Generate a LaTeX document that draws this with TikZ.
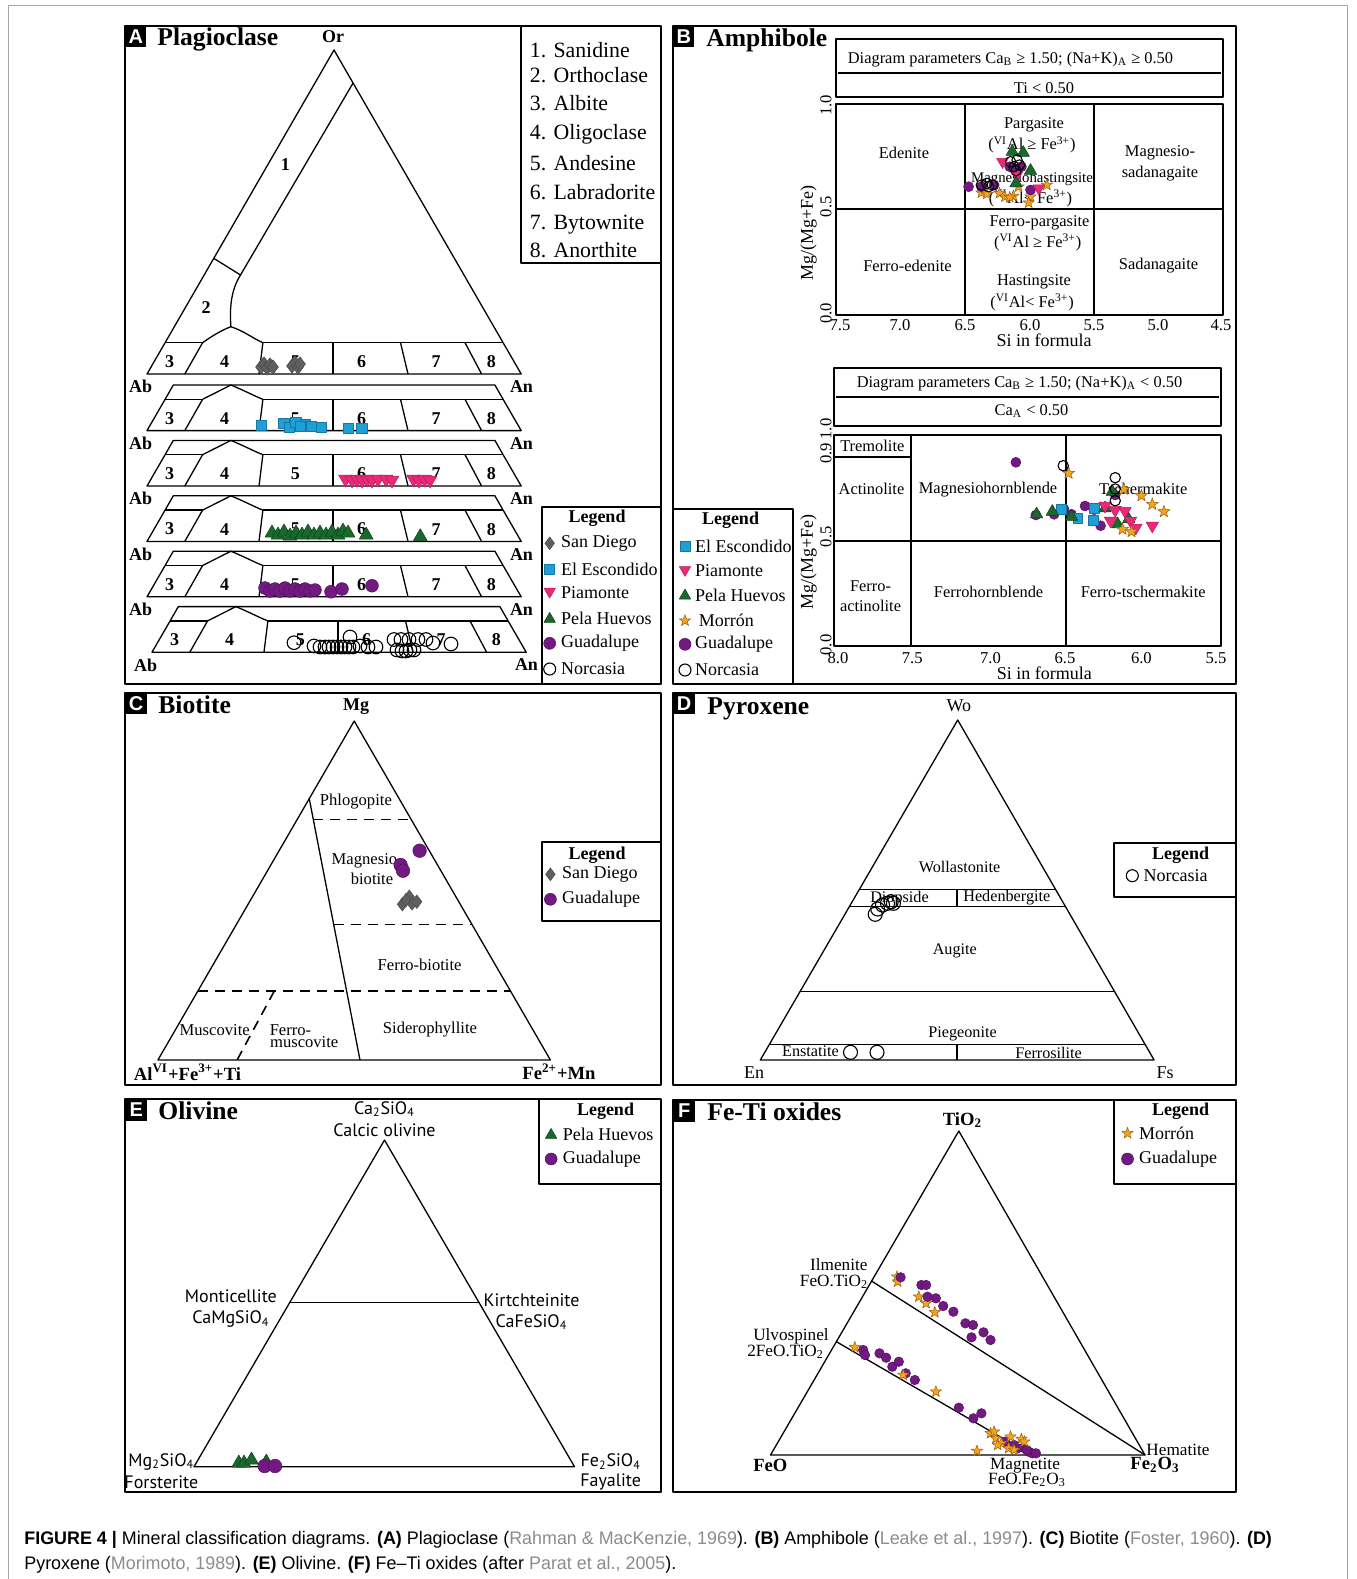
\documentclass[tikz,border=0pt]{standalone}
\usepackage{fontspec}
\usepackage{graphicx}
\setmainfont{Liberation Serif}
\newfontfamily\sansf{Liberation Sans}
\newfontfamily\olf{PT Sans}
\usetikzlibrary{plotmarks}
\pgfdeclareplotmark{fstar}{%
 \pgfpathmoveto{\pgfqpoint{0pt}{\pgfplotmarksize}}%
 \pgfpathlineto{\pgfqpoint{-0.235\pgfplotmarksize}{0.324\pgfplotmarksize}}%
 \pgfpathlineto{\pgfqpoint{-0.951\pgfplotmarksize}{0.309\pgfplotmarksize}}%
 \pgfpathlineto{\pgfqpoint{-0.380\pgfplotmarksize}{-0.124\pgfplotmarksize}}%
 \pgfpathlineto{\pgfqpoint{-0.588\pgfplotmarksize}{-0.809\pgfplotmarksize}}%
 \pgfpathlineto{\pgfqpoint{0pt}{-0.4\pgfplotmarksize}}%
 \pgfpathlineto{\pgfqpoint{0.588\pgfplotmarksize}{-0.809\pgfplotmarksize}}%
 \pgfpathlineto{\pgfqpoint{0.380\pgfplotmarksize}{-0.124\pgfplotmarksize}}%
 \pgfpathlineto{\pgfqpoint{0.951\pgfplotmarksize}{0.309\pgfplotmarksize}}%
 \pgfpathlineto{\pgfqpoint{0.235\pgfplotmarksize}{0.324\pgfplotmarksize}}%
 \pgfpathclose\pgfusepathqfillstroke}
\definecolor{sdgray}{RGB}{95,95,95}
\definecolor{esblue}{RGB}{30,160,215}
\definecolor{pmpink}{RGB}{238,40,120}
\definecolor{phgreen}{RGB}{25,105,45}
\definecolor{gdpurple}{RGB}{115,25,130}
\definecolor{mrorange}{RGB}{247,162,30}
\definecolor{refgray}{RGB}{140,140,140}
\tikzset{
 frame/.style={line width=1.1pt},
 tri/.style={line width=0.65pt},
 bx/.style={line width=1pt},
 lett/.style={font=\sansf\bfseries\fontsize{10}{10}\selectfont, text=white, inner sep=0},
 ttl/.style={font=\bfseries\fontsize{12.8}{14}\selectfont, inner sep=0, anchor=base west},
 lst/.style={font=\fontsize{10.9}{12}\selectfont, inner sep=0, anchor=base west},
 pnum/.style={font=\bfseries\fontsize{9}{10}\selectfont, inner sep=0},
 leg/.style={font=\bfseries\fontsize{9}{10}\selectfont, inner sep=0},
 legi/.style={font=\fontsize{9}{10}\selectfont, inner sep=0, anchor=west},
 bl/.style={font=\fontsize{8.2}{9}\selectfont, inner sep=0},
 tk/.style={font=\fontsize{8.3}{9}\selectfont, inner sep=0},
 axt/.style={font=\fontsize{9}{10}\selectfont, inner sep=0},
 cl/.style={font=\fontsize{8.3}{9}\selectfont, inner sep=0},
 dl/.style={font=\fontsize{8.1}{9}\selectfont, inner sep=0},
 el/.style={font=\olf\fontsize{9}{10}\selectfont, inner sep=0},
 fl/.style={font=\fontsize{8.6}{9}\selectfont, inner sep=0},
 bax/.style={font=\bfseries\fontsize{9.3}{10}\selectfont, inner sep=0},
 dsh/.style={line width=0.8pt, dash pattern=on 5pt off 3.5pt},
 capf/.style={font=\sansf\fontsize{9.1}{11}\selectfont, inner sep=0, anchor=base west},
 mSD/.style={mark=diamond*, mark size=#1, mark options={draw=black!70, fill=sdgray, line width=0.25pt}},
 mES/.style={mark=square*, mark size=#1, mark options={draw=esblue!75!black, fill=esblue, line width=0.25pt}},
 mPM/.style={mark=triangle*, mark size=#1, mark options={rotate=180, draw=pmpink!75!black, fill=pmpink, line width=0.25pt}},
 mPH/.style={mark=triangle*, mark size=#1, mark options={draw=phgreen!60!black, fill=phgreen, line width=0.25pt}},
 mGD/.style={mark=*, mark size=#1, mark options={draw=gdpurple!70!black, fill=gdpurple, line width=0.25pt}},
 mMR/.style={mark=fstar, mark size=#1, mark options={draw=mrorange!60!black, fill=mrorange, line width=0.25pt}},
 mNC/.style={mark=o, mark size=#1, mark options={draw=black, line width=0.55pt}},
}
\newcommand\plagbase[1]{%
  \draw[tri] (165.1,0) -- (147,31.3) -- (521.2,31.3) -- (503.1,0);
  \draw[tri] (165.1,0) -- (202.6,0);
  \draw[tri] (262.9,0) -- (503.1,0);
  \draw[tri] (202.6,0) -- (184.8,31.3);
  \draw[tri] (262.9,0) -- (259,31.3);
  \draw[tri] (333,0) -- (333,31.3);
  \draw[tri] (400.5,0) -- (408,31.3);
  \draw[tri] (465,0) -- (481.6,31.3);
  \node[pnum] (#1a) at (169.5,19) {3};
  \node[pnum] (#1b) at (224.7,19) {4};
  \node[pnum] (#1c) at (295.3,19) {5};
  \node[pnum] (#1d) at (361.5,19) {6};
  \node[pnum] (#1e) at (436,19) {7};
  \node[pnum] (#1f) at (491.4,19) {8};
  \node[pnum] (#1g) at (140.7,44) {Ab};
  \node[pnum] (#1h) at (521.5,44) {An};
}
\newcommand\plagtop{%
  \draw[tri] (165.1,0) -- (173.3,-14.3) -- (494.9,-14.3) -- (503.1,0);
  \draw[tri] (202.6,0) -- (230.9,-14.3) .. controls (246,-8) and (255,-3) .. (262.9,0);
}
\begin{document}
\begin{tikzpicture}[x=0.5pt,y=-0.5pt,line join=round]
\useasboundingbox (0,0) rectangle (1356,1579);
\fill[white] (0,0) rectangle (1356,1579);
\draw[black!35, line width=0.5pt] (8,1579) -- (8,5) -- (1347,5) -- (1347,1579);

% ================= PANEL A =================
\draw[frame] (125,26) rectangle (661,684);
\fill (125.5,26.5) rectangle (146,47);
\node[lett] (la) at (135.8,36.8) {A};
\node[ttl] (ta) at (157,46) {Plagioclase};
\node[pnum] (aor) at (333,37) {Or};
\draw[bx] (521,26) -- (521,263.3) -- (661,263.3);
\node[lst] (al1) at (529.5,57.3) {1. Sanidine};
\node[lst] (al2) at (529.5,82.7) {2. Orthoclase};
\node[lst] (al3) at (529.5,110.7) {3. Albite};
\node[lst] (al4) at (529.5,139.3) {4. Oligoclase};
\node[lst] (al5) at (529.5,170.7) {5. Andesine};
\node[lst] (al6) at (529.5,199) {6. Labradorite};
\node[lst] (al7) at (529.5,229) {7. Bytownite};
\node[lst] (al8) at (529.5,257.3) {8. Anorthite};
% main triangle
\draw[tri] (165.1,342.7) -- (334,50) -- (503.1,342.7);
\draw[tri] (352.9,83.3) -- (240.5,275);
\draw[tri] (213.7,258.3) -- (240.5,275);
\draw[tri] (240.5,275) .. controls (231,290) and (229.5,308) .. (230.9,326.7);
\draw[tri] (202.6,342.7) .. controls (212,336) and (222,330) .. (230.9,326.7) .. controls (244,331) and (254,339) .. (262.9,342.7);
\node[pnum] (ar1) at (285.3,165) {1};
\node[pnum] (ar2) at (206.1,307.3) {2};
\begin{scope}[shift={(0,342.7)}] \plagbase{pa} \end{scope}
\begin{scope}[shift={(0,399.3)}] \plagtop \plagbase{pb} \end{scope}
\begin{scope}[shift={(0,454.7)}] \plagtop \plagbase{pc} \end{scope}
\begin{scope}[shift={(0,510.1)}] \plagtop \plagbase{pd} \end{scope}
\begin{scope}[shift={(0,565.5)}] \plagtop \plagbase{pe} \end{scope}
\begin{scope}[shift={(5,620.9)}] \plagtop \plagbase{pf} \end{scope}
% data A
\draw plot[only marks, mSD=3.6pt] coordinates {(261,367) (264,364) (267,368) (270,365) (273,367) (292,366) (295,363) (298,367) (300,364)};
\draw plot[only marks, mES=2.6pt] coordinates {(261.2,425) (283.6,423) (289.4,427) (295.6,422) (305.3,424) (311.1,426) (300,426) (321.4,427) (348,428) (361.7,428)};
\draw plot[only marks, mPM=4pt] coordinates {(345.5,479) (352,480) (357,479) (362,480) (367,479) (372,480) (378,479) (386,479) (392,480) (413.5,479) (419,480) (424.5,479) (430,480)};
\draw plot[only marks, mPH=4pt] coordinates {(272,533) (278,535) (284,532) (290,536) (296,533) (302,535) (308,532) (314,535) (320,533) (326,535) (332,532) (338,535) (343,531) (348,533) (366.2,535) (420.3,536.7)};
\draw plot[only marks, mGD=3.2pt] coordinates {(265,588) (270,591) (275,589) (280,591) (285,588) (290,591) (295,589) (300,591) (305,589) (310,591) (315,590) (331,591.7) (342,589) (372,585.7)};
\draw plot[only marks, mNC=3.4pt] coordinates {(294,642.7) (314,646) (320,647) (325,647) (329,647) (333,647) (337,647) (341,647) (345,647) (349,647) (353,647) (350,637) (360,646) (368,647) (376,647) (394,639.5) (401,639.5) (409,639.5) (418,639.5) (426,639.5) (433,643) (451,644) (397,650) (402,651) (406,651) (410,650) (414,650)};
% legend A
\draw[bx] (541.8,684) -- (541.8,506.7) -- (661,506.7);
\node[leg] (alg) at (597,518.3) {Legend};
\draw plot[only marks, mSD=3.2pt] coordinates {(549.7,543.3)};
\draw plot[only marks, mES=2.5pt] coordinates {(549.7,569)};
\draw plot[only marks, mPM=3.3pt] coordinates {(549.7,591.5)};
\draw plot[only marks, mPH=3.3pt] coordinates {(549.7,619)};
\draw plot[only marks, mGD=3pt] coordinates {(549.7,643.3)};
\draw plot[only marks, mNC=3pt] coordinates {(549.7,669)};
\node[legi] (alg1) at (560.8,543.3) {San Diego};
\node[legi] (alg2) at (560.8,569) {El Escondido};
\node[legi] (alg3) at (560.8,592.7) {Piamonte};
\node[legi] (alg4) at (560.8,618.3) {Pela Huevos};
\node[legi] (alg5) at (560.8,643.3) {Guadalupe};
\node[legi] (alg6) at (560.8,669) {Norcasia};

% ================= PANEL B =================
\draw[frame] (673,26) rectangle (1236,684);
\fill (673.5,26.5) rectangle (694,47);
\node[lett] (lb) at (683.8,36.8) {B};
\node[ttl] (tb) at (706,46.7) {Amphibole};
\draw[bx] (836,39.3) rectangle (1223,97.3);
\draw[bx] (838,73.3) -- (1221,73.3);
\node[bl] (bp1) at (1010.5,59.3) {Diagram parameters Ca\textsubscript{B} ≥ 1.50; (Na+K)\textsubscript{A} ≥ 0.50};
\node[bl] (bp2) at (1044,88.3) {Ti < 0.50};
\draw[bx] (836,104) rectangle (1223,315);
\draw[bx] (965.4,104) -- (965.4,315);
\draw[bx] (1094,104) -- (1094,315);
\draw[bx] (836,209.3) -- (1223,209.3);
\node[tk] (bx1) at (840,325) {7.5};
\node[tk] (bx2) at (900,325) {7.0};
\node[tk] (bx3) at (965,325) {6.5};
\node[tk] (bx4) at (1030,325) {6.0};
\node[tk] (bx5) at (1094,325) {5.5};
\node[tk] (bx6) at (1158,325) {5.0};
\node[tk] (bx7) at (1221,325) {4.5};
\node[axt] (bxt) at (1044,340.7) {Si in formula};
\node[tk,rotate=90] (by1) at (826,105.5) {1.0};
\node[tk,rotate=90] (by2) at (826,206.7) {0.5};
\node[tk,rotate=90] (by3) at (826,313.3) {0.0};
\node[axt,rotate=90] (byt) at (808.6,233.3) {Mg/(Mg+Fe)};
\node[bl] (br1) at (904,153.3) {Edenite};
\node[bl] (br2) at (1034,125) {Pargasite};
\node[bl] (br3) at (1032,145) {(\textsuperscript{VI}Al ≥ Fe\textsuperscript{3+})};
\node[bl] (br4) at (1160,153.3) {Magnesio-};
\node[bl] (br5) at (1160,173.3) {sadanagaite};
\node[bl,font=\fontsize{7.4}{8}\selectfont] (br6) at (1032,179.3) {Magnesiohastingsite};
\node[bl] (br7) at (1030.5,198.3) {(\textsuperscript{VI}Al< Fe\textsuperscript{3+})};
\node[bl] (br8) at (1039.5,223.3) {Ferro-pargasite};
\node[bl] (br9) at (1037.7,242.7) {(\textsuperscript{VI}Al ≥ Fe\textsuperscript{3+})};
\node[bl] (br10) at (907.5,265.7) {Ferro-edenite};
\node[bl] (br11) at (1034,282.3) {Hastingsite};
\node[bl] (br12) at (1032,302.3) {(\textsuperscript{VI}Al< Fe\textsuperscript{3+})};
\node[bl] (br13) at (1158.5,265.7) {Sadanagaite};
% data chart 1
\draw plot[only marks, mMR=3pt] coordinates {(981.4,192.7) (986.8,194) (999.5,193.3) (1005,196.7) (1013.4,196) (1018.5,186.7) (1030.5,196.7) (1028.6,202.7) (1046.8,185) (1009.7,197.3)};
\draw plot[only marks, mGD=2.5pt] coordinates {(968.6,186.7) (1009.7,166.7) (1021.4,166.7) (981.4,186.7) (994.1,185) (1030.5,190) (1013,168)};
\draw plot[only marks, mPM=3.4pt] coordinates {(1002.5,161.7) (1017,175) (1038.8,188.3)};
\draw plot[only marks, mPH=3.6pt] coordinates {(1012.3,151.7) (1023.2,152.7) (1030.5,170.7) (1016,183.3)};
\draw plot[only marks, mNC=2.6pt] coordinates {(1010.5,161.7) (1017,160) (1014,166.7) (1019.5,165) (1016,170.7) (981.4,185) (986.8,183.3) (992.3,185) (988.6,186.7)};
% chart 2
\draw[bx] (834,367.7) rectangle (1220.6,426);
\draw[bx] (836,397.3) -- (1218.6,397.3);
\node[bl] (bq1) at (1019.5,383.3) {Diagram parameters Ca\textsubscript{B} ≥ 1.50; (Na+K)\textsubscript{A} < 0.50};
\node[bl] (bq2) at (1031.5,411) {Ca\textsubscript{A} < 0.50};
\draw[bx] (834,435) rectangle (1220.6,646);
\draw[bx] (911.2,435) -- (911.2,646);
\draw[bx] (1065.7,435) -- (1065.7,646);
\draw[bx] (834,540.7) -- (1220.6,540.7);
\draw[bx] (834,456.7) -- (911.2,456.7);
\node[tk] (bz1) at (838,658.3) {8.0};
\node[tk] (bz2) at (912.3,658.3) {7.5};
\node[tk] (bz3) at (990.5,658.3) {7.0};
\node[tk] (bz4) at (1065,658.3) {6.5};
\node[tk] (bz5) at (1141.4,658.3) {6.0};
\node[tk] (bz6) at (1216,658.3) {5.5};
\node[axt] (bzt) at (1044.3,673.3) {Si in formula};
\node[tk,rotate=90] (bw1) at (826,429) {1.0};
\node[tk,rotate=90] (bw2) at (826,453.5) {0.9};
\node[tk,rotate=90] (bw3) at (826,536.7) {0.5};
\node[tk,rotate=90] (bw4) at (826,645) {0.0};
\node[axt,rotate=90] (bwt) at (808.6,561.7) {Mg/(Mg+Fe)};
\node[bl] (bs1) at (872.3,445.7) {Tremolite};
\node[bl] (bs2) at (871.5,489.3) {Actinolite};
\node[bl] (bs3) at (988,489.3) {Magnesiohornblende};
\node[bl] (bs4) at (1143.2,489.3) {Tschermakite};
\node[bl] (bs5) at (870.5,586) {Ferro-};
\node[bl] (bs6) at (870.5,605.7) {actinolite};
\node[bl] (bs7) at (988.6,592.3) {Ferrohornblende};
\node[bl] (bs8) at (1143.2,592.3) {Ferro-tschermakite};
\draw plot[only marks, mGD=2.5pt] coordinates {(1015.9,462.3) (1035.9,515) (1054.1,514.3) (1063.9,509) (1071.5,514.3) (1085,506) (1094.1,519.3) (1100.6,525.7) (1115.2,495)};
\draw plot[only marks, mES=2.4pt] coordinates {(1061.4,509) (1077.7,518.3) (1094.1,508.3) (1093.4,520)};
\draw plot[only marks, mPH=3.6pt] coordinates {(1036.6,514.3) (1052.3,511.7) (1071.5,516.7) (1105,508.3) (1112.3,491.7) (1117.7,524.3) (1128.6,519.3)};
\draw plot[only marks, mPM=3.6pt] coordinates {(1105,505.7) (1115.2,510) (1125,511) (1110.5,520.7) (1130.5,520.7) (1135.9,527.7) (1152.3,525.7)};
\draw plot[only marks, mMR=3.2pt] coordinates {(1068.6,473.3) (1123.9,489.3) (1141.4,495.7) (1152.3,504.3) (1163.9,511.7) (1122.5,529.3) (1131.5,531.7)};
\draw plot[only marks, mNC=2.6pt] coordinates {(1063.2,465.7) (1115.2,477.7) (1115.2,489) (1115.2,500.7)};
% legend B
\draw[bx] (673,509) -- (793,509) -- (793,684);
\node[leg] (blg) at (730.5,520) {Legend};
\draw plot[only marks, mES=2.5pt] coordinates {(685,546.7)};
\draw plot[only marks, mPM=3.3pt] coordinates {(685,569.8)};
\draw plot[only marks, mPH=3.3pt] coordinates {(685,595.7)};
\draw plot[only marks, mMR=3pt] coordinates {(685,620.7)};
\draw plot[only marks, mGD=3pt] coordinates {(685,644.3)};
\draw plot[only marks, mNC=3pt] coordinates {(685,670)};
\node[legi] (blg1) at (694.8,546.7) {El Escondido};
\node[legi] (blg2) at (694.8,571) {Piamonte};
\node[legi] (blg3) at (694.8,595) {Pela Huevos};
\node[legi] (blg4) at (698.5,620.7) {Morrón};
\node[legi] (blg5) at (694.8,644.3) {Guadalupe};
\node[legi] (blg6) at (694.8,670) {Norcasia};

% ================= PANEL C =================
\draw[frame] (125,693) rectangle (661,1085);
\fill (125.5,693.5) rectangle (146.5,714);
\node[lett] (lc) at (136,703.8) {C};
\node[ttl] (tc) at (158,713.3) {Biotite};
\node[pnum] (cmg) at (356,707) {Mg};
\draw[tri] (157.9,1060) -- (354.2,721) -- (550.4,1060) -- cycle;
\draw[tri] (309.2,798.3) -- (360,1060);
\draw[dsh] (312.8,819.3) -- (411.5,819.3);
\draw[dsh] (333.5,924.3) -- (471.9,924.3);
\draw[dsh] (198.2,991) -- (511,991);
\draw[dsh] (274.3,991) -- (237.1,1060);
\node[cl] (cr1) at (355.9,801.7) {Phlogopite};
\node[cl] (cr2) at (367.2,860.7) {Magnesio-};
\node[cl] (cr3) at (372,879.3) {biotite};
\node[cl] (cr4) at (419.6,965) {Ferro-biotite};
\node[cl] (cr5) at (214.7,1030) {Muscovite};
\node[cl] (cr6) at (290.5,1030) {Ferro-};
\node[cl] (cr7) at (304.2,1042.3) {muscovite};
\node[cl] (cr8) at (430,1030) {Siderophyllite};
\node[bax] (cax1) at (187.5,1072.3) {Al\textsuperscript{VI}+Fe\textsuperscript{3+}+Ti};
\node[bax] (cax2) at (559,1071.7) {Fe\textsuperscript{2+}+Mn};
\draw plot[only marks, mGD=3.4pt] coordinates {(419.6,850.7) (400.6,865) (403,870.7)};
\draw plot[only marks, mSD=3.4pt] coordinates {(402.4,904.3) (409.3,896.7) (412,903.3) (416.8,901.7) (406,900)};
\draw[bx] (661,842.3) -- (541.8,842.3) -- (541.8,920.7) -- (661,920.7);
\node[leg] (clg) at (597,855) {Legend};
\draw plot[only marks, mSD=3.2pt] coordinates {(550.4,874.3)};
\draw plot[only marks, mGD=3pt] coordinates {(550.4,899.3)};
\node[legi] (clg1) at (561.8,874.3) {San Diego};
\node[legi] (clg2) at (561.8,899.3) {Guadalupe};

% ================= PANEL D =================
\draw[frame] (673,693) rectangle (1236,1085);
\fill (673.5,693.5) rectangle (694.5,714);
\node[lett] (ld) at (684,703.8) {D};
\node[ttl] (td) at (707,714.3) {Pyroxene};
\node[axt] (dwo) at (958.8,705.7) {Wo};
\draw[tri] (760.3,1060) -- (957.7,720) -- (1154.1,1060) -- cycle;
\draw[tri] (859.4,889.3) -- (1055.5,889.3);
\draw[tri] (849.3,906.7) -- (1065.5,906.7);
\draw[tri] (800,991.7) -- (1114.6,991.7);
\draw[tri] (769.4,1044.3) -- (1145,1044.3);
\draw[tri] (957,889.3) -- (957,906.7);
\draw[tri] (957,1044.3) -- (957,1060);
\node[dl] (dr1) at (959.5,866.7) {Wollastonite};
\node[dl] (dr2) at (899.5,898.3) {Diopside};
\node[dl] (dr3) at (1006.8,897.7) {Hedenbergite};
\node[dl] (dr4) at (954.8,950.7) {Augite};
\node[dl] (dr5) at (962.5,1034.3) {Piegeonite};
\node[dl] (dr6) at (810.5,1051.7) {Enstatite};
\node[dl] (dr7) at (1048.6,1053.3) {Ferrosilite};
\node[axt] (den) at (754,1072.3) {En};
\node[axt] (dfs) at (1165,1072.3) {Fs};
\draw plot[only marks, mNC=3.5pt] coordinates {(875.2,914.3) (877.7,909) (882.5,905) (887.5,903.3) (891.2,901.7) (893.4,903.3) (850.5,1052.3) (877,1052.3)};
\draw[bx] (1236,843.3) -- (1114,843.3) -- (1114,896.7) -- (1236,896.7);
\node[leg] (dlg) at (1180.6,855.7) {Legend};
\draw plot[only marks, mNC=3pt] coordinates {(1132.3,875.7)};
\node[legi] (dlg1) at (1143.2,875.7) {Norcasia};

% ================= PANEL E =================
\draw[frame] (125,1099) rectangle (661,1492);
\fill (125.5,1099.5) rectangle (147,1120.5);
\node[lett] (le) at (136.2,1110) {E};
\node[ttl] (te) at (158,1119.3) {Olivine};
\node[el] (et1) at (384.5,1109) {Ca\textsubscript{2}SiO\textsubscript{4}};
\node[el] (et2) at (384.5,1130) {Calcic olivine};
\draw[tri] (194,1466.7) -- (384.5,1140) -- (574.5,1466.7) -- cycle;
\draw[tri] (289.9,1302.3) -- (478.9,1302.3);
\node[el] (er1) at (230.9,1296.7) {Monticellite};
\node[el] (er2) at (230.9,1319.3) {CaMgSiO\textsubscript{4}};
\node[el] (er3) at (531.5,1300) {Kirtchteinite};
\node[el] (er4) at (531.5,1322.3) {CaFeSiO\textsubscript{4}};
\node[el] (er5) at (161.3,1461.7) {Mg\textsubscript{2}SiO\textsubscript{4}};
\node[el] (er6) at (161.3,1482) {Forsterite};
\node[el] (er7) at (610.7,1461.7) {Fe\textsubscript{2}SiO\textsubscript{4}};
\node[el] (er8) at (610.7,1482) {Fayalite};
\draw plot[only marks, mPH=4pt] coordinates {(238.8,1463) (244,1463) (251.5,1460) (266.3,1462)};
\draw plot[only marks, mGD=3.4pt] coordinates {(264.6,1466) (275,1466)};
\draw[bx] (539.4,1099) -- (539.4,1184.3) -- (661,1184.3);
\node[leg] (elg) at (605.5,1111) {Legend};
\draw plot[only marks, mPH=3.3pt] coordinates {(551.1,1135)};
\draw plot[only marks, mGD=3pt] coordinates {(551.1,1159)};
\node[legi] (elg1) at (562.5,1134.3) {Pela Huevos};
\node[legi] (elg2) at (562.5,1159) {Guadalupe};

% ================= PANEL F =================
\draw[frame] (673,1100) rectangle (1236,1492);
\fill (673.5,1100.5) rectangle (695,1121.5);
\node[lett] (lf) at (684.2,1111) {F};
\node[ttl] (tf) at (707,1120) {Fe-Ti oxides};
\node[bax] (fti) at (962.5,1120) {TiO\textsubscript{2}};
\draw[tri] (770.5,1455) -- (958.8,1131) -- (1145,1455) -- cycle;
\draw[tri] (871.5,1281) -- (1145,1455);
\draw[tri] (836.4,1341.7) -- (1031.5,1455);
\node[fl] (fr1) at (838.8,1265) {Ilmenite};
\node[fl] (fr2) at (834,1281.7) {FeO.TiO\textsubscript{2}};
\node[fl] (fr3) at (791,1336.7) {Ulvospinel};
\node[fl] (fr4) at (785.6,1351.7) {2FeO.TiO\textsubscript{2}};
\node[fl] (fr5) at (1178,1450) {Hematite};
\node[bax] (fr6) at (770.4,1465) {FeO};
\node[bax] (fr7) at (1155,1465) {Fe\textsubscript{2}O\textsubscript{3}};
\node[fl] (fr8) at (1025,1466) {Magnetite};
\node[fl] (fr9) at (1027,1480) {FeO.Fe\textsubscript{2}O\textsubscript{3}};
\draw plot[only marks, mMR=3pt] coordinates {(897,1276.7) (897.7,1281.7) (918.8,1296.7) (926.1,1303.3) (934.8,1312.3)};
\draw plot[only marks, mGD=2.4pt] coordinates {(900.6,1277.3) (921.4,1285) (926.1,1285) (927.5,1296.7) (935.9,1298.3) (943.2,1306) (953.4,1311.7) (965.4,1323.3) (973,1325) (971.5,1337.3) (983.5,1332.3) (990.5,1340)};
\draw plot[only marks, mGD=2.4pt] coordinates {(863.2,1350) (865,1355) (879.5,1353.3) (886.1,1357.7) (892.3,1366.7) (898.8,1361.7) (905.7,1373.3) (914.8,1380) (958.8,1407.7) (973.4,1418.3) (981.4,1413.3) (1005,1441.7) (1014,1445) (1023.2,1447.7) (1028.6,1451.7) (1032.3,1453.3) (1035.9,1453.3) (1026.8,1450) (1017.7,1448.3)};
\draw plot[only marks, mMR=3pt] coordinates {(854.8,1347.3) (903.2,1375) (935.9,1391.7) (977,1451) (990.5,1433.3) (995.9,1438.3) (1001.4,1443.3) (1010.5,1436.7) (1021.4,1439) (1024.3,1441.7) (1008.6,1448.3) (1014.1,1450) (997.7,1445) (994.1,1431.7)};
\draw[bx] (1114,1100) -- (1114,1184.3) -- (1236,1184.3);
\node[leg] (flg) at (1180.6,1111) {Legend};
\draw plot[only marks, mMR=3pt] coordinates {(1127.5,1133.3)};
\draw plot[only marks, mGD=3pt] coordinates {(1127.5,1159)};
\node[legi] (flg1) at (1138.8,1133.3) {Morrón};
\node[legi] (flg2) at (1138.8,1159) {Guadalupe};

% ================= CAPTION =================
\node[capf] (cap1) at (24,1544) {\scalebox{0.983}[1]{\textbf{FIGURE 4 |} Mineral classification diagrams. \textbf{(A)} Plagioclase ({\color{refgray}Rahman \& MacKenzie, 1969}). \textbf{(B)} Amphibole ({\color{refgray}Leake et al., 1997}). \textbf{(C)} Biotite ({\color{refgray}Foster, 1960}). \textbf{(D)}}};
\node[capf] (cap2) at (24,1569) {\scalebox{0.983}[1]{Pyroxene ({\color{refgray}Morimoto, 1989}). \textbf{(E)} Olivine. \textbf{(F)} Fe–Ti oxides (after {\color{refgray}Parat et al., 2005}).}};
\end{tikzpicture}
\end{document}
